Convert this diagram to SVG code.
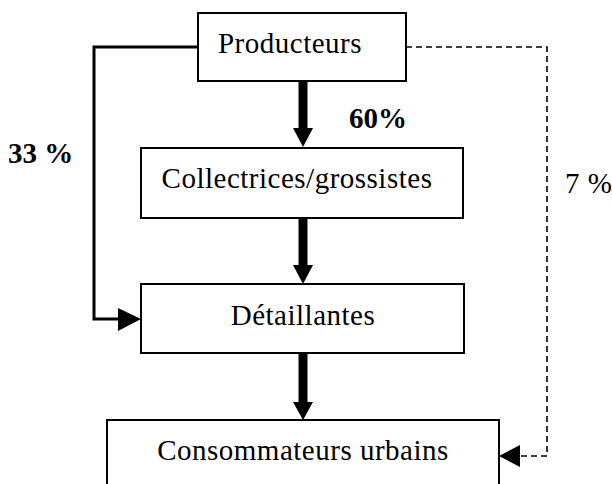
<svg xmlns="http://www.w3.org/2000/svg" width="612" height="484" viewBox="0 0 612 484">
<style>
.box{fill:#fff;stroke:#000;stroke-width:2}
.t{font-family:"Liberation Serif","Times New Roman",serif;font-size:29px;fill:#000;letter-spacing:0.5px}
.b{font-weight:bold;letter-spacing:0}
.thick{fill:none;stroke:#000;stroke-width:3}
.shaft{fill:none;stroke:#000;stroke-width:9}
.dash{fill:none;stroke:#000;stroke-width:1.6;stroke-dasharray:6 4}
</style>
<rect width="612" height="484" fill="#fff"/>
<g id="connectors">
<line class="shaft" x1="303" y1="81" x2="303" y2="129"/>
<polygon points="293,128 313,128 303,147"/>
<line class="shaft" x1="303" y1="218" x2="303" y2="266"/>
<polygon points="293,265 313,265 303,284"/>
<line class="shaft" x1="303" y1="353" x2="303" y2="403"/>
<polygon points="293,402 313,402 303,420"/>
<polyline class="thick" points="198,47 94,47 94,319 120,319"/>
<polygon points="118,308 141,319 118,331"/>
<polyline class="dash" points="406,47 547,47 547,456 518,456"/>
<polygon points="520,445 499,456 520,467"/>
</g>
<g id="producteurs">
<rect class="box" x="198" y="13" width="208" height="68"/>
<text class="t" x="290" y="53" text-anchor="middle">Producteurs</text>
</g>
<g id="collectrices">
<rect class="box" x="141" y="148" width="322" height="70"/>
<text class="t" x="297" y="188" text-anchor="middle">Collectrices/grossistes</text>
</g>
<g id="detaillantes">
<rect class="box" x="141" y="284" width="323" height="69"/>
<text class="t" x="303" y="325" text-anchor="middle">Détaillantes</text>
</g>
<g id="consommateurs">
<rect class="box" x="107" y="420" width="392" height="80"/>
<text class="t" x="303" y="460" text-anchor="middle">Consommateurs urbains</text>
</g>
<g id="labels">
<text class="t b" x="349" y="128">60%</text>
<text class="t b" x="8" y="163">33 %</text>
<text class="t" x="565" y="193">7 %</text>
</g>
</svg>
